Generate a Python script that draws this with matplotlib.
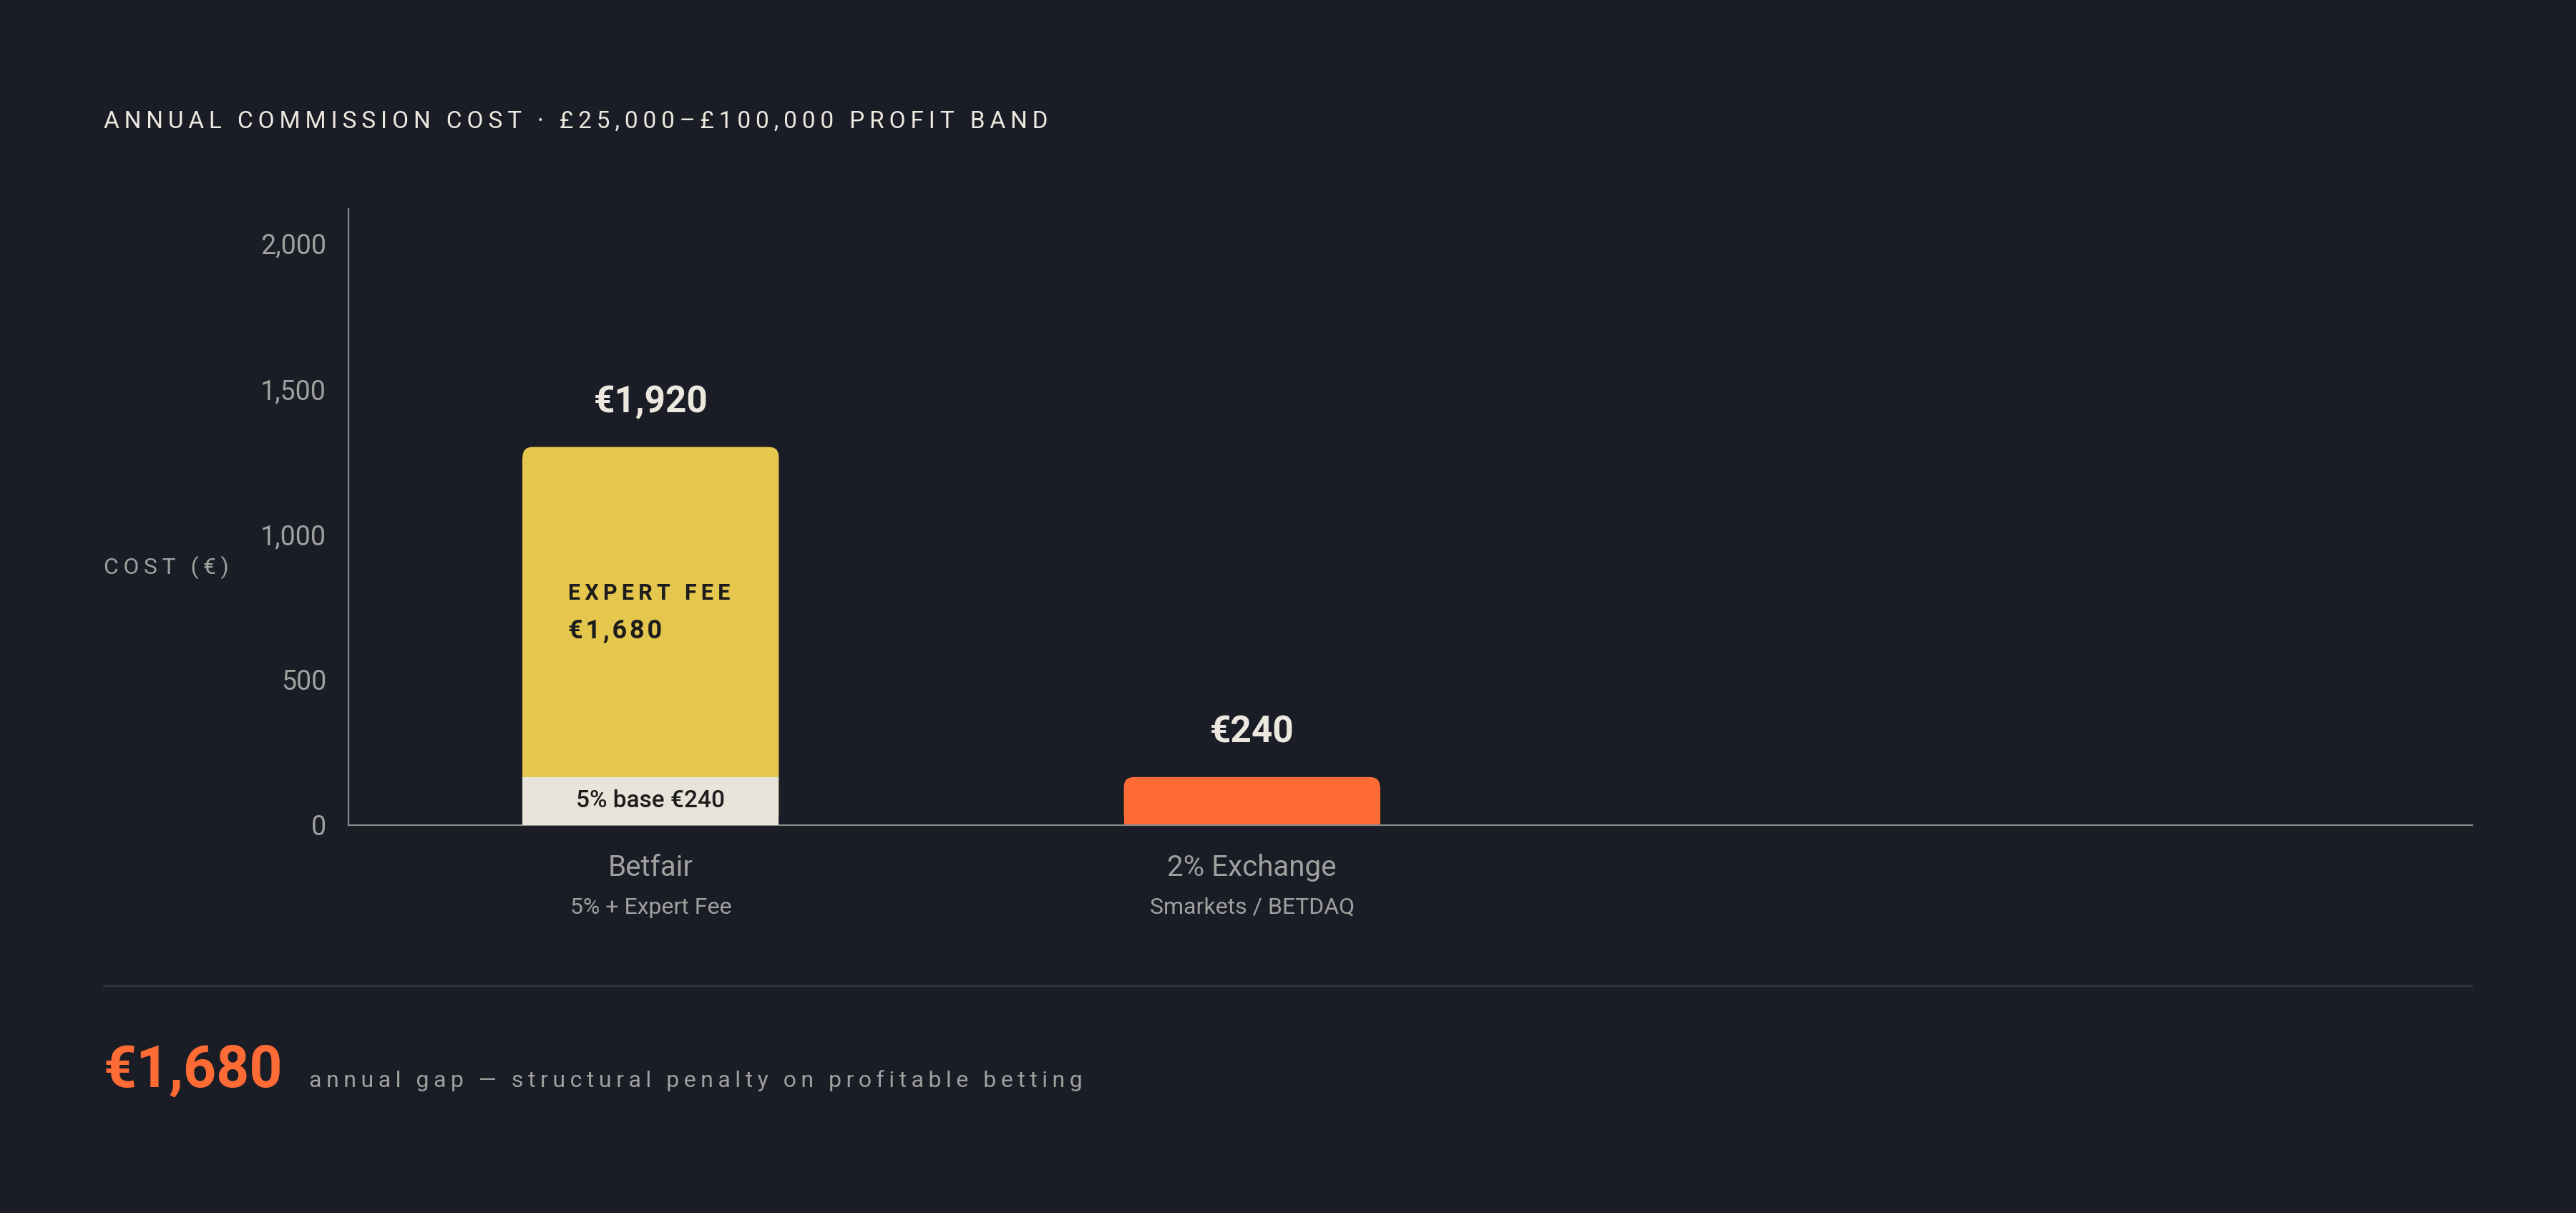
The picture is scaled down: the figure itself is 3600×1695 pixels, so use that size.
import matplotlib
matplotlib.use("Agg")
import matplotlib.pyplot as plt
from matplotlib.patches import FancyBboxPatch, Rectangle

# data
categories = ["Betfair", "2% Exchange"]
subtitles = ["5% + Expert Fee", "Smarkets / BETDAQ"]
base_heights = [165, 165]      # bar heights as drawn on the cost axis
expert_heights = [1135, 0]
total_labels = ["€1,920", "€240"]
expert_name = "EXPERT FEE"
expert_value = "€1,680"
base_text = "5% base €240"
gap_value = "€1,680"
gap_text = "annual gap — structural penalty on profitable betting"
y_ticks = [0, 500, 1000, 1500, 2000]
y_tick_labels = ["0", "500", "1,000", "1,500", "2,000"]

BG = "#1a1d25"
CREAM = "#ece8df"
YELLOW = "#e5c74d"
BASE = "#e8e4da"
ORANGE = "#ff6b35"
GREY = "#a0a0a0"
DARK = "#1c1c1c"
FONT = ["Roboto", "DejaVu Sans"]

plt.rcParams["font.family"] = FONT

HAIR = "\u200a"
THIN = "\u2009"


def spaced(s, sep=HAIR):
    return sep.join(s)


fig = plt.figure(figsize=(36, 16.95), dpi=100, facecolor=BG)
ax = fig.add_axes([0.1352, 0.3198, 0.8246, 0.5081])
ax.set_facecolor(BG)
ax.set_xlim(-0.503, 3.03)
ax.set_ylim(0, 2119)

# keep the corner radius round in pixels
p0 = ax.transData.transform((0, 0))
p1 = ax.transData.transform((1, 1))
px_x, px_y = p1[0] - p0[0], p1[1] - p0[1]
r_px = 14
r_x = r_px / px_x
r_y = r_px / px_y
aspect = px_x / px_y

width = 0.426
top_colors = [YELLOW, ORANGE]
base_colors = [BASE, ORANGE]
for i in range(len(categories)):
    left = i - width / 2
    top = base_heights[i] + expert_heights[i]
    ax.add_patch(FancyBboxPatch((left, 0), width, top,
                                boxstyle=f"round,pad=0,rounding_size={r_x}",
                                mutation_aspect=aspect, fc=top_colors[i], ec="none", zorder=2))
    ax.add_patch(Rectangle((left, 0), width, top - r_y, fc=top_colors[i], ec="none", zorder=2))
    if base_colors[i] != top_colors[i]:
        ax.add_patch(Rectangle((left, 0), width, base_heights[i], fc=base_colors[i],
                               ec="none", zorder=3))
    ax.annotate(total_labels[i], (i, top), xytext=(0, 45), textcoords="offset points",
                ha="center", va="center", fontsize=37, fontweight="bold", color=CREAM)
    ax.annotate(categories[i], (i, 0), xytext=(0, -43), textcoords="offset points",
                ha="center", va="center", fontsize=29, color=GREY)
    ax.annotate(subtitles[i], (i, 0), xytext=(0, -83), textcoords="offset points",
                ha="center", va="center", fontsize=23, color=GREY)

# labels inside the Betfair bar
mid = base_heights[0] + expert_heights[0] / 2
ax.annotate(spaced(expert_name, THIN), (-width / 2, mid), xytext=(46, 19),
            textcoords="offset points", ha="left", va="center", fontsize=22,
            fontweight="bold", color=DARK)
ax.annotate(spaced(expert_value), (-width / 2, mid), xytext=(46, -19),
            textcoords="offset points", ha="left", va="center", fontsize=26,
            fontweight="bold", color=DARK)
ax.text(0, base_heights[0] / 2, base_text, ha="center", va="center", fontsize=24,
        fontweight="medium", color=DARK, zorder=4)

ax.set_yticks(y_ticks)
ax.set_yticklabels(y_tick_labels)
ax.set_xticks([])
ax.tick_params(axis="y", length=0, pad=22, labelsize=27, labelcolor=GREY)
for side in ["top", "right"]:
    ax.spines[side].set_visible(False)
for side in ["left", "bottom"]:
    ax.spines[side].set_color("#8a8a8a")
    ax.spines[side].set_linewidth(1.6)

fig.text(0.0402, 0.8997, spaced("ANNUAL COMMISSION COST · £25,000–£100,000 PROFIT BAND", THIN),
         ha="left", va="center", fontsize=24, color=CREAM)
fig.text(0.0402, 0.5325, spaced("COST (€)", THIN), ha="left", va="center",
         fontsize=23, color=GREY)

fig.add_artist(plt.Line2D([0.0402, 0.9598], [0.187, 0.187], color="#34373e", lw=1.6))
fig.text(0.0402, 0.104, gap_value, ha="left", va="baseline", fontsize=58,
         fontweight="bold", color=ORANGE)
fig.text(0.1199, 0.104, spaced(gap_text, THIN), ha="left", va="baseline", fontsize=23,
         color=GREY)

fig.savefig("out.png", dpi=100, facecolor=BG)
